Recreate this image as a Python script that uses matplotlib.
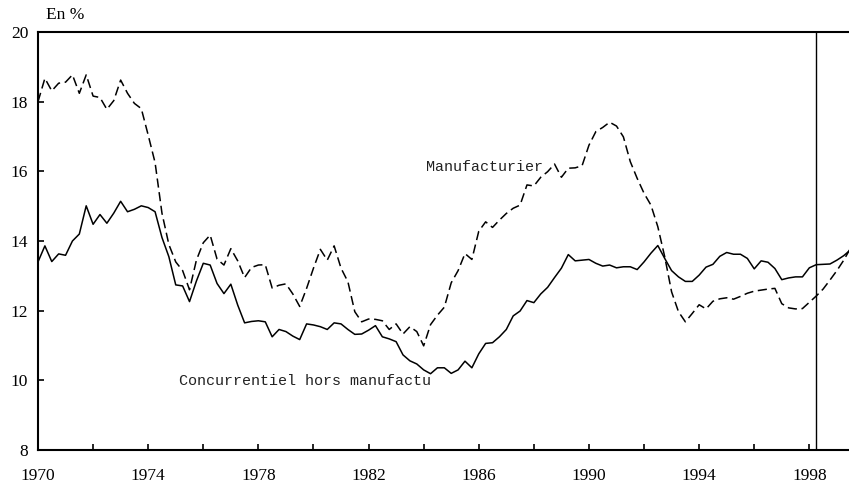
import numpy as np
import matplotlib
matplotlib.use("Agg")
import matplotlib.pyplot as plt
from matplotlib.ticker import MultipleLocator, FixedLocator

# Quarterly data, 1970Q1 .. 1999Q3
start_year = 1970.0
concurrentiel = [
    13.40, 13.86, 13.41, 13.63,   # 1970
    13.59, 14.00, 14.20, 15.01,   # 1971
    14.48, 14.76, 14.51, 14.80,   # 1972
    15.14, 14.84, 14.91, 15.01,   # 1973
    14.96, 14.84, 14.10, 13.55,   # 1974
    12.74, 12.71, 12.26, 12.85,   # 1975
    13.36, 13.31, 12.78, 12.49,   # 1976
    12.76, 12.16, 11.65, 11.69,   # 1977
    11.71, 11.68, 11.25, 11.46,   # 1978
    11.40, 11.27, 11.17, 11.62,   # 1979
    11.59, 11.54, 11.46, 11.65,   # 1980
    11.62, 11.46, 11.32, 11.33,   # 1981
    11.44, 11.57, 11.25, 11.19,   # 1982
    11.11, 10.73, 10.56, 10.47,   # 1983
    10.30, 10.19, 10.36, 10.36,   # 1984
    10.20, 10.30, 10.55, 10.36,   # 1985
    10.76, 11.06, 11.08, 11.25,   # 1986
    11.46, 11.85, 11.99, 12.29,   # 1987
    12.23, 12.48, 12.67, 12.95,   # 1988
    13.22, 13.61, 13.43, 13.45,   # 1989
    13.47, 13.36, 13.28, 13.31,   # 1990
    13.23, 13.26, 13.26, 13.18,   # 1991
    13.40, 13.65, 13.87, 13.50,   # 1992
    13.15, 12.97, 12.84, 12.84,   # 1993
    13.02, 13.25, 13.33, 13.56,   # 1994
    13.67, 13.62, 13.62, 13.50,   # 1995
    13.20, 13.43, 13.39, 13.21,   # 1996
    12.89, 12.94, 12.97, 12.97,   # 1997
    13.23, 13.32, 13.33, 13.34,   # 1998
    13.45, 13.58, 13.75,          # 1999
]
manufacturier = [
    18.00, 18.67, 18.31, 18.53,   # 1970
    18.56, 18.77, 18.24, 18.77,   # 1971
    18.16, 18.12, 17.78, 18.03,   # 1972
    18.62, 18.24, 17.95, 17.80,   # 1973
    17.04, 16.25, 14.80, 13.90,   # 1974
    13.40, 13.15, 12.60, 13.45,   # 1975
    13.95, 14.17, 13.48, 13.31,   # 1976
    13.78, 13.43, 12.95, 13.24,   # 1977
    13.31, 13.32, 12.65, 12.73,   # 1978
    12.77, 12.48, 12.12, 12.64,   # 1979
    13.22, 13.76, 13.45, 13.86,   # 1980
    13.22, 12.83, 11.97, 11.68,   # 1981
    11.76, 11.75, 11.71, 11.46,   # 1982
    11.62, 11.33, 11.54, 11.40,   # 1983
    10.99, 11.60, 11.87, 12.10,   # 1984
    12.80, 13.15, 13.64, 13.47,   # 1985
    14.28, 14.55, 14.39, 14.60,   # 1986
    14.79, 14.94, 15.03, 15.61,   # 1987
    15.58, 15.83, 15.99, 16.21,   # 1988
    15.83, 16.09, 16.10, 16.16,   # 1989
    16.75, 17.14, 17.26, 17.41,   # 1990
    17.30, 16.99, 16.28, 15.80,   # 1991
    15.37, 15.03, 14.41, 13.55,   # 1992
    12.54, 11.97, 11.68, 11.92,   # 1993
    12.17, 12.05, 12.27, 12.34,   # 1994
    12.37, 12.33, 12.41, 12.50,   # 1995
    12.56, 12.59, 12.62, 12.64,   # 1996
    12.20, 12.08, 12.05, 12.06,   # 1997
    12.24, 12.42, 12.62, 12.88,   # 1998
    13.15, 13.45, 13.80,          # 1999
]
label_manuf = "Manufacturier"
label_conc = "Concurrentiel hors manufactu"
y_unit = "En %"
vline_year = 1998.25
x_tick_labels = [1970, 1974, 1978, 1982, 1986, 1990, 1994, 1998]
y_ticks = [8, 10, 12, 14, 16, 18, 20]

t = start_year + np.arange(len(concurrentiel)) / 4.0
t2 = start_year + np.arange(len(manufacturier)) / 4.0

fig = plt.figure(figsize=(8.49, 4.83), dpi=100)
ax = fig.add_axes([38 / 849, 1 - 450 / 483, 1 - 38 / 849, (450 - 32) / 483])

ax.plot(t, concurrentiel, color="black", lw=1.1)
ax.plot(t2, manufacturier, color="black", lw=1.1, linestyle=(0, (6, 3)))
ax.axvline(vline_year, color="black", lw=1.0)

ax.set_xlim(1970, 1999.44)
ax.set_ylim(8, 20)

serif = ["Liberation Serif", "DejaVu Serif"]
mono = ["Liberation Mono", "DejaVu Sans Mono"]

ax.xaxis.set_major_locator(FixedLocator(x_tick_labels))
ax.xaxis.set_minor_locator(MultipleLocator(2))
ax.set_xticklabels([str(v) for v in x_tick_labels], family=serif, fontsize=12.5)
ax.set_yticks(y_ticks)
ax.set_yticklabels([str(v) for v in y_ticks], family=serif, fontsize=12.5)

ax.tick_params(axis="x", which="both", direction="in", length=4, width=1.2, pad=13, top=False)
ax.tick_params(axis="y", which="both", direction="in", length=4, width=1.2, pad=7, right=False)

for s in ["left", "bottom", "top"]:
    ax.spines[s].set_linewidth(1.5)
ax.spines["right"].set_visible(False)

ax.text(1984.1, 16.13, label_manuf, family=mono, fontsize=10.8,
        ha="left", va="center", color="#222222")
ax.text(1975.12, 9.98, label_conc, family=mono, fontsize=10.8,
        ha="left", va="center", color="#222222")

fig.text(46 / 849, 1 - 15 / 483, y_unit, family=serif, fontsize=12.5, ha="left", va="center")

fig.savefig("out.png", dpi=100)
